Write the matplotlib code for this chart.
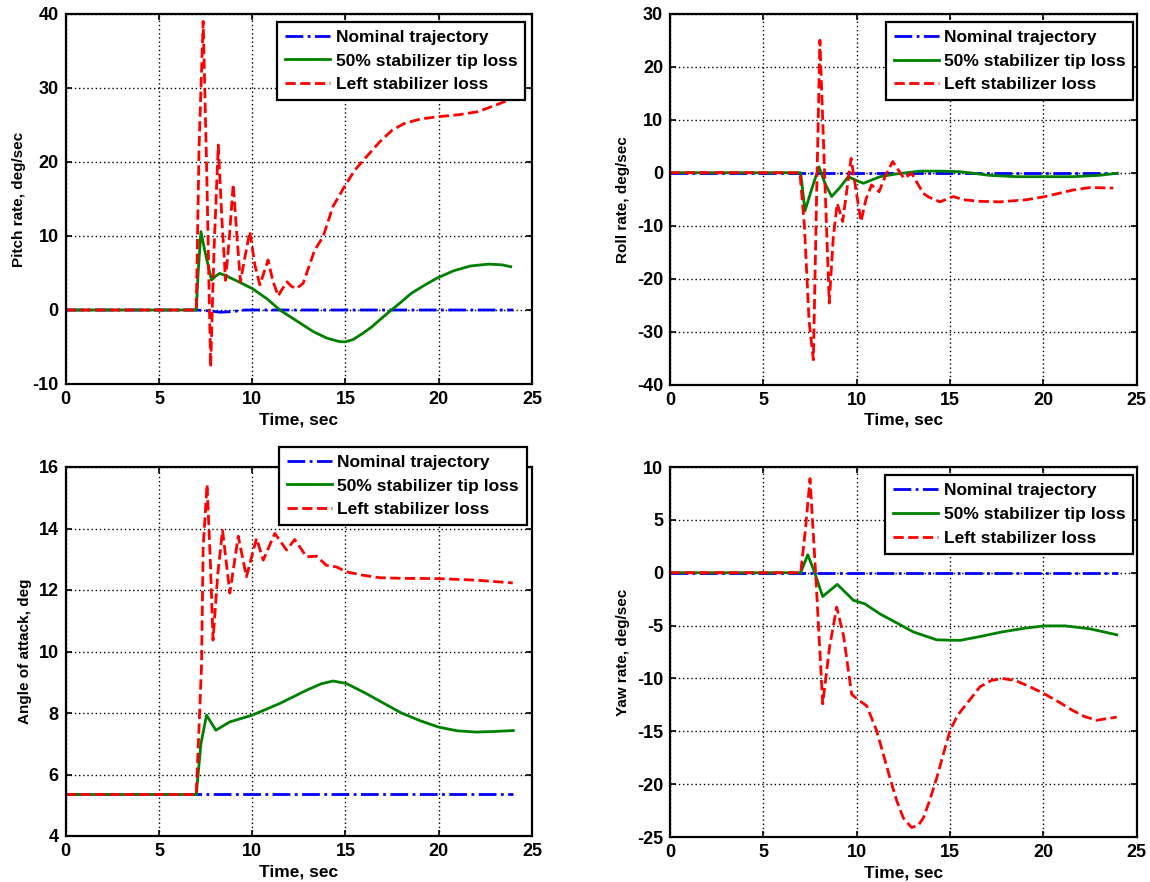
import matplotlib
matplotlib.use("Agg")
import matplotlib.pyplot as plt

plt.rcParams['font.family'] = ['Liberation Sans', 'DejaVu Sans']
plt.rcParams['font.weight'] = 'bold'
plt.rcParams['axes.labelweight'] = 'bold'
plt.rcParams['axes.unicode_minus'] = False

labels = ["Nominal trajectory", "50% stabilizer tip loss", "Left stabilizer loss"]

# ---------------- Pitch rate ----------------
pitch_nom_t = [0, 7.0, 7.6, 8.3, 9.0, 9.6, 24.0]
pitch_nom_v = [0, 0, -0.1, -0.3, -0.2, 0, 0]
pitch_tip_t = [0, 7.0, 7.1, 7.25, 7.5, 7.82, 8.05, 8.26, 8.53, 9.2, 10.0, 10.8, 11.48, 12.4,
               13.26, 14.0, 14.69, 15.0, 15.4, 15.9, 16.4, 16.83, 17.46, 18.0, 18.5, 19.2, 19.9,
               20.8, 21.7, 22.68, 23.4, 23.86]
pitch_tip_v = [0, 0, 5, 10.6, 7.5, 4.05, 4.6, 4.95, 4.7, 3.9, 2.9, 1.5, 0, -1.5,
               -2.9, -3.8, -4.28, -4.3, -4.0, -3.2, -2.3, -1.35, 0, 1.1, 2.2, 3.3, 4.3,
               5.3, 5.95, 6.2, 6.1, 5.85]
pitch_left_t = [0, 7.0, 7.15, 7.37, 7.55, 7.77, 7.95, 8.18, 8.38, 8.57, 8.78, 8.98, 9.18, 9.37,
                9.6, 9.87, 10.15, 10.41, 10.62, 10.85, 11.1, 11.39, 11.6, 11.87, 12.1, 12.37, 12.73,
                13.35, 13.8, 14.33, 15.0, 15.5, 16.12, 16.83, 17.5, 18.15, 19.0, 19.9, 21.1, 22.1,
                23.07, 23.96]
pitch_left_v = [0, 0, 22, 39, 20, -7.7, 8, 22.3, 12, 4.0, 10, 17.0, 10, 3.8,
                7, 10.6, 6, 3.4, 5, 6.75, 4, 1.9, 2.8, 3.8, 3.2, 2.9, 3.6,
                8.1, 9.9, 14, 16.9, 18.9, 20.7, 22.7, 24.3, 25.2, 25.8, 26.1, 26.4, 26.8,
                27.7, 28.6]

# ---------------- Roll rate ----------------
roll_nom_t = [0, 24.0]
roll_nom_v = [0, 0]
roll_tip_t = [0, 7.0, 7.23, 7.6, 7.98, 8.3, 8.66, 9.1, 9.55, 10.0, 10.36, 11.25, 12.1, 13.4,
              14.46, 15.5, 16.25, 17.1, 18.57, 21.6, 23.0, 23.95]
roll_tip_v = [0, 0, -7.2, -3, 1.1, -2, -4.5, -2.8, -0.75, -1.5, -2.0, -0.75, -0.25, 0.3,
              0.3, 0.2, -0.1, -0.5, -0.75, -0.75, -0.5, -0.1]
roll_left_t = [0, 6.96, 7.2, 7.45, 7.68, 7.85, 8.03, 8.28, 8.53, 8.75, 8.96, 9.25, 9.7, 9.95,
               10.23, 10.5, 10.8, 11.2, 11.55, 11.93, 12.53, 12.94, 13.57, 13.86, 14.46, 15.18,
               15.71, 16.6, 17.67, 19.1, 20.1, 21.6, 22.5, 23.75]
roll_left_v = [0, 0, -10, -28, -35.3, -5, 25.0, 0, -24.6, -12, -5.8, -9.2, 2.7, -3,
               -9.2, -5, -2.3, -3.6, -0.5, 2.1, -1.06, -0.1, -3.9, -4.6, -5.5, -4.5,
               -5.1, -5.4, -5.5, -5.1, -4.5, -3.26, -2.8, -2.9]

# ---------------- Angle of attack ----------------
aoa_nom_t = [0, 24.0]
aoa_nom_v = [5.35, 5.35]
aoa_tip_t = [0, 7.0, 7.25, 7.55, 8.05, 8.8, 10.0, 11.48, 12.91, 13.7, 14.33, 15.05, 16.12, 16.83,
             18.0, 19.0, 20.0, 21.0, 22.0, 23.0, 24.0]
aoa_tip_v = [5.35, 5.35, 7.0, 7.93, 7.44, 7.71, 7.93, 8.31, 8.74, 8.95, 9.04, 8.96, 8.63, 8.39,
             8.0, 7.75, 7.54, 7.42, 7.38, 7.4, 7.43]
aoa_left_t = [0, 7.0, 7.28, 7.37, 7.58, 7.75, 7.9, 8.15, 8.41, 8.8, 9.25, 9.69, 10.23, 10.59,
              11.21, 11.84, 12.28, 12.91, 13.45, 13.98, 14.52, 15.05, 15.94, 16.83, 18.0, 20.0,
              22.0, 23.97]
aoa_left_v = [5.35, 5.35, 9.5, 13.4, 15.43, 13, 10.37, 12.5, 13.94, 11.9, 13.75, 12.43, 13.68, 12.97,
              13.84, 13.3, 13.64, 13.08, 13.1, 12.8, 12.75, 12.59, 12.48, 12.4, 12.38, 12.37,
              12.32, 12.23]

# ---------------- Yaw rate ----------------
yaw_nom_t = [0, 24.0]
yaw_nom_v = [0, 0]
yaw_tip_t = [0, 7.0, 7.38, 7.75, 8.18, 8.96, 9.82, 10.44, 11.25, 12.2, 13.03, 14.29, 15.54,
             16.6, 17.79, 19.0, 20.04, 21.16, 22.47, 23.93]
yaw_tip_v = [0, 0, 1.7, 0, -2.25, -1.1, -2.6, -2.95, -3.9, -4.8, -5.6, -6.35, -6.4,
             -6.04, -5.6, -5.25, -5.03, -5.03, -5.3, -5.87]
yaw_left_t = [0, 7.0, 7.25, 7.5, 7.8, 8.18, 8.55, 8.93, 9.3, 9.73, 10.03, 10.54, 11.07, 11.4,
              11.78, 12.15, 12.5, 12.94, 13.3, 13.57, 13.9, 14.29, 14.65, 15.0, 15.4, 15.89,
              16.6, 17.2, 17.79, 18.5, 19.3, 20.04, 20.8, 21.54, 22.2, 22.85, 23.93]
yaw_left_v = [0, 0, 4, 8.9, 0, -12.4, -7, -3.26, -6, -11.5, -11.95, -12.6, -14.95, -17.0,
              -19.4, -21.6, -23.2, -24.1, -23.9, -23.2, -21.6, -19.4, -17.1, -14.95, -13.5, -12.4,
              -10.8, -10.2, -10.0, -10.2, -10.8, -11.45, -12.2, -13.0, -13.6, -13.96, -13.66]

W, H = 1150, 882
fig = plt.figure(figsize=(W / 100, H / 100), dpi=100)


def px_axes(x0, x1, ytop, ybot):
    return fig.add_axes([x0 / W, 1 - ybot / H, (x1 - x0) / W, (ybot - ytop) / H])


panels = [
    dict(rect=(65.7, 532, 14, 384), ylim=(-10, 40), yt=range(-10, 41, 10),
         ylabel="Pitch rate, deg/sec",
         data=[(pitch_nom_t, pitch_nom_v), (pitch_tip_t, pitch_tip_v), (pitch_left_t, pitch_left_v)],
         leg=(0.985, 0.979)),
    dict(rect=(670, 1136.7, 13.7, 384.7), ylim=(-40, 30), yt=range(-40, 31, 10),
         ylabel="Roll rate, deg/sec",
         data=[(roll_nom_t, roll_nom_v), (roll_tip_t, roll_tip_v), (roll_left_t, roll_left_v)],
         leg=(0.993, 0.978)),
    dict(rect=(65.7, 532, 467, 836), ylim=(4, 16), yt=range(4, 17, 2),
         ylabel="Angle of attack, deg",
         data=[(aoa_nom_t, aoa_nom_v), (aoa_tip_t, aoa_tip_v), (aoa_left_t, aoa_left_v)],
         leg=(0.9886, 1.055)),
    dict(rect=(670, 1136.7, 467, 837), ylim=(-25, 10), yt=range(-25, 11, 5),
         ylabel="Yaw rate, deg/sec",
         data=[(yaw_nom_t, yaw_nom_v), (yaw_tip_t, yaw_tip_v), (yaw_left_t, yaw_left_v)],
         leg=(0.992, 0.978)),
]

styles = [dict(color=(0, 0, 1), ls='-.', lw=2.0),
          dict(color=(0, 0.5, 0), ls='-', lw=2.0),
          dict(color=(1, 0, 0), ls='--', lw=2.0)]

for p in panels:
    ax = px_axes(*p['rect'])
    for (t, v), st, lab in zip(p['data'], styles, labels):
        ax.plot(t, v, label=lab, **st)
    ax.set_xlim(0, 25)
    ax.set_xticks(range(0, 26, 5))
    ax.set_ylim(*p['ylim'])
    ax.set_yticks(list(p['yt']))
    ax.grid(True, color='black', ls=(0, (1, 2)), lw=1.0)
    ax.tick_params(direction='in', top=True, right=True, length=4, width=1.2,
                   labelsize=13, pad=5)
    for s in ax.spines.values():
        s.set_linewidth(1.6)
    ax.set_xlabel("Time, sec", fontsize=12.5, labelpad=3)
    ax.set_ylabel(p['ylabel'], fontsize=11, labelpad=5)
    leg = ax.legend(loc='upper right', bbox_to_anchor=p['leg'], borderaxespad=0,
                    fontsize=12.5, handlelength=2.6, handletextpad=0.3, labelspacing=0.5,
                    borderpad=0.45, fancybox=False, framealpha=1, edgecolor='black')
    leg.get_frame().set_linewidth(1.6)

fig.savefig("out.png", dpi=100)
